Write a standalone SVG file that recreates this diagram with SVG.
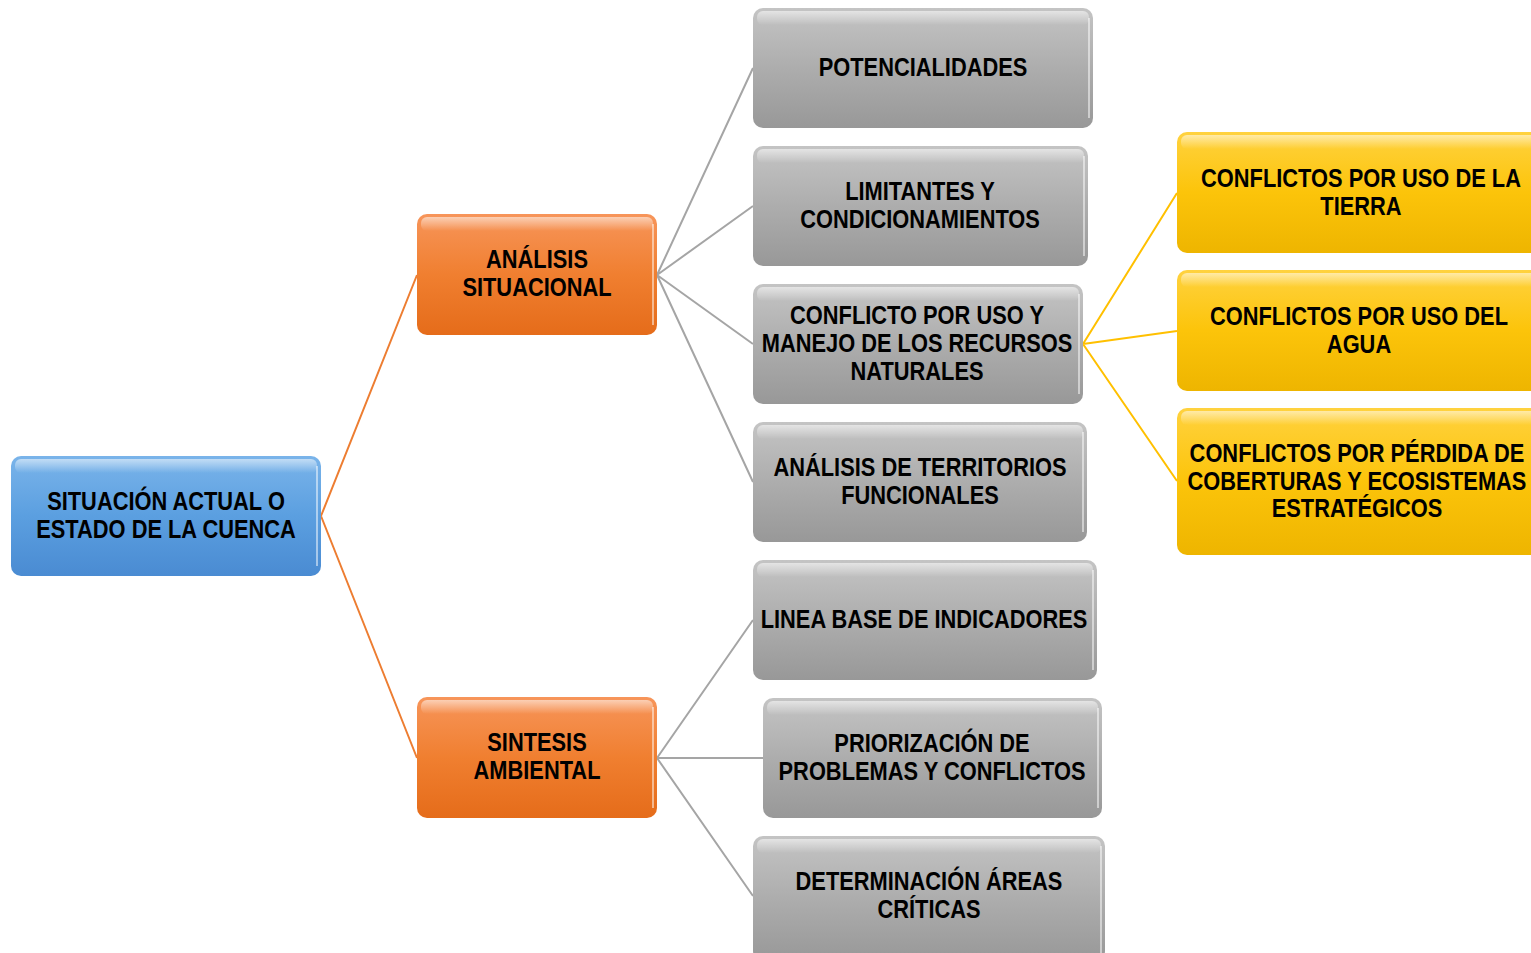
<svg xmlns="http://www.w3.org/2000/svg" width="1531" height="953" viewBox="0 0 1531 953">
<defs>
<linearGradient id="gBlue" x1="0" y1="0" x2="0" y2="1"><stop offset="0" stop-color="#7ab4ea"/><stop offset="0.5" stop-color="#5b9fe0"/><stop offset="1" stop-color="#4a8bd2"/></linearGradient>
<linearGradient id="gOrange" x1="0" y1="0" x2="0" y2="1"><stop offset="0" stop-color="#f7955a"/><stop offset="0.5" stop-color="#f07f30"/><stop offset="1" stop-color="#e56c1a"/></linearGradient>
<linearGradient id="gGray" x1="0" y1="0" x2="0" y2="1"><stop offset="0" stop-color="#c4c4c4"/><stop offset="0.5" stop-color="#adadad"/><stop offset="1" stop-color="#989898"/></linearGradient>
<linearGradient id="gYellow" x1="0" y1="0" x2="0" y2="1"><stop offset="0" stop-color="#ffd23f"/><stop offset="0.5" stop-color="#fcc40a"/><stop offset="1" stop-color="#eeb500"/></linearGradient>
<linearGradient id="gHi" x1="0" y1="0" x2="0" y2="1"><stop offset="0" stop-color="#fff" stop-opacity="0.55"/><stop offset="1" stop-color="#fff" stop-opacity="0"/></linearGradient>
</defs>
<style>
.t{font-family:"Liberation Sans",Arial,sans-serif;font-weight:bold;font-size:26px;fill:#000;text-anchor:middle}
.hi{fill:url(#gHi)}
.edge{fill:none;stroke:#fff;stroke-opacity:0.5;stroke-width:2}
.c{fill:none;stroke-width:2}
</style>
<g id="connectors">
<path class="c" stroke="#ed7d31" d="M321 516 L417 275 M321 516 L417 758"/>
<path class="c" stroke="#a5a5a5" d="M657 275 L753 68 M657 275 L753 206 M657 275 L753 344 M657 275 L753 482"/>
<path class="c" stroke="#a5a5a5" d="M657 758 L753 620 M657 758 L763 758 M657 758 L753 896"/>
<path class="c" stroke="#ffc000" d="M1083 344 L1177 193 M1083 344 L1177 331 M1083 344 L1177 481"/>
</g>
<g id="root">
<rect x="11" y="456" width="310" height="120" rx="10" fill="url(#gBlue)"/>
<rect x="15" y="459" width="302" height="14" rx="6" class="hi"/>
<line x1="317" y1="466" x2="317" y2="566" class="edge"/>
<g transform="matrix(0.84 0 0 1 166 0)"><text class="t" x="0" y="510">SITUACIÓN ACTUAL O</text>
<text class="t" x="0" y="538">ESTADO DE LA CUENCA</text></g>
</g>
<g id="analisis">
<rect x="417" y="214" width="240" height="121" rx="10" fill="url(#gOrange)"/>
<rect x="421" y="217" width="232" height="14" rx="6" class="hi"/>
<line x1="653" y1="224" x2="653" y2="325" class="edge"/>
<g transform="matrix(0.84 0 0 1 537 0)"><text class="t" x="0" y="268">ANÁLISIS</text>
<text class="t" x="0" y="296">SITUACIONAL</text></g>
</g>
<g id="sintesis">
<rect x="417" y="697" width="240" height="121" rx="10" fill="url(#gOrange)"/>
<rect x="421" y="700" width="232" height="14" rx="6" class="hi"/>
<line x1="653" y1="707" x2="653" y2="808" class="edge"/>
<g transform="matrix(0.84 0 0 1 537 0)"><text class="t" x="0" y="751">SINTESIS</text>
<text class="t" x="0" y="779">AMBIENTAL</text></g>
</g>
<g id="potencialidades">
<rect x="753" y="8" width="340" height="120" rx="10" fill="url(#gGray)"/>
<rect x="757" y="11" width="332" height="14" rx="6" class="hi"/>
<line x1="1089" y1="18" x2="1089" y2="118" class="edge"/>
<g transform="matrix(0.84 0 0 1 923 0)"><text class="t" x="0" y="76">POTENCIALIDADES</text></g>
</g>
<g id="limitantes">
<rect x="753" y="146" width="335" height="120" rx="10" fill="url(#gGray)"/>
<rect x="757" y="149" width="327" height="14" rx="6" class="hi"/>
<line x1="1084" y1="156" x2="1084" y2="256" class="edge"/>
<g transform="matrix(0.84 0 0 1 920 0)"><text class="t" x="0" y="200">LIMITANTES Y</text>
<text class="t" x="0" y="228">CONDICIONAMIENTOS</text></g>
</g>
<g id="conflicto">
<rect x="753" y="284" width="330" height="120" rx="10" fill="url(#gGray)"/>
<rect x="757" y="287" width="322" height="14" rx="6" class="hi"/>
<line x1="1079" y1="294" x2="1079" y2="394" class="edge"/>
<g transform="matrix(0.84 0 0 1 917 0)"><text class="t" x="0" y="324">CONFLICTO POR USO Y</text>
<text class="t" x="0" y="352">MANEJO DE LOS RECURSOS</text>
<text class="t" x="0" y="380">NATURALES</text></g>
</g>
<g id="territorios">
<rect x="753" y="422" width="334" height="120" rx="10" fill="url(#gGray)"/>
<rect x="757" y="425" width="326" height="14" rx="6" class="hi"/>
<line x1="1083" y1="432" x2="1083" y2="532" class="edge"/>
<g transform="matrix(0.84 0 0 1 920 0)"><text class="t" x="0" y="476">ANÁLISIS DE TERRITORIOS</text>
<text class="t" x="0" y="504">FUNCIONALES</text></g>
</g>
<g id="linea-base">
<rect x="753" y="560" width="344" height="120" rx="10" fill="url(#gGray)"/>
<rect x="757" y="563" width="336" height="14" rx="6" class="hi"/>
<line x1="1093" y1="570" x2="1093" y2="670" class="edge"/>
<g transform="matrix(0.84 0 0 1 924 0)"><text class="t" x="0" y="628">LINEA BASE DE INDICADORES</text></g>
</g>
<g id="priorizacion">
<rect x="763" y="698" width="339" height="120" rx="10" fill="url(#gGray)"/>
<rect x="767" y="701" width="331" height="14" rx="6" class="hi"/>
<line x1="1098" y1="708" x2="1098" y2="808" class="edge"/>
<g transform="matrix(0.84 0 0 1 932 0)"><text class="t" x="0" y="752">PRIORIZACIÓN DE</text>
<text class="t" x="0" y="780">PROBLEMAS Y CONFLICTOS</text></g>
</g>
<g id="determinacion">
<rect x="753" y="836" width="352" height="125" rx="10" fill="url(#gGray)"/>
<rect x="757" y="839" width="344" height="14" rx="6" class="hi"/>
<line x1="1101" y1="846" x2="1101" y2="953" class="edge"/>
<g transform="matrix(0.84 0 0 1 929 0)"><text class="t" x="0" y="890">DETERMINACIÓN ÁREAS</text>
<text class="t" x="0" y="918">CRÍTICAS</text></g>
</g>
<g id="uso-tierra">
<rect x="1177" y="132" width="370" height="121" rx="10" fill="url(#gYellow)"/>
<rect x="1181" y="135" width="362" height="14" rx="6" class="hi"/>
<g transform="matrix(0.84 0 0 1 1361 0)"><text class="t" x="0" y="187">CONFLICTOS POR USO DE LA</text>
<text class="t" x="0" y="215">TIERRA</text></g>
</g>
<g id="uso-agua">
<rect x="1177" y="270" width="370" height="121" rx="10" fill="url(#gYellow)"/>
<rect x="1181" y="273" width="362" height="14" rx="6" class="hi"/>
<g transform="matrix(0.84 0 0 1 1359 0)"><text class="t" x="0" y="325">CONFLICTOS POR USO DEL</text>
<text class="t" x="0" y="353">AGUA</text></g>
</g>
<g id="perdida-coberturas">
<rect x="1177" y="408" width="370" height="147" rx="10" fill="url(#gYellow)"/>
<rect x="1181" y="411" width="362" height="14" rx="6" class="hi"/>
<g transform="matrix(0.84 0 0 1 1357 0)"><text class="t" x="0" y="462">CONFLICTOS POR PÉRDIDA DE</text>
<text class="t" x="0" y="490">COBERTURAS Y ECOSISTEMAS</text>
<text class="t" x="0" y="517">ESTRATÉGICOS</text></g>
</g>
</svg>
